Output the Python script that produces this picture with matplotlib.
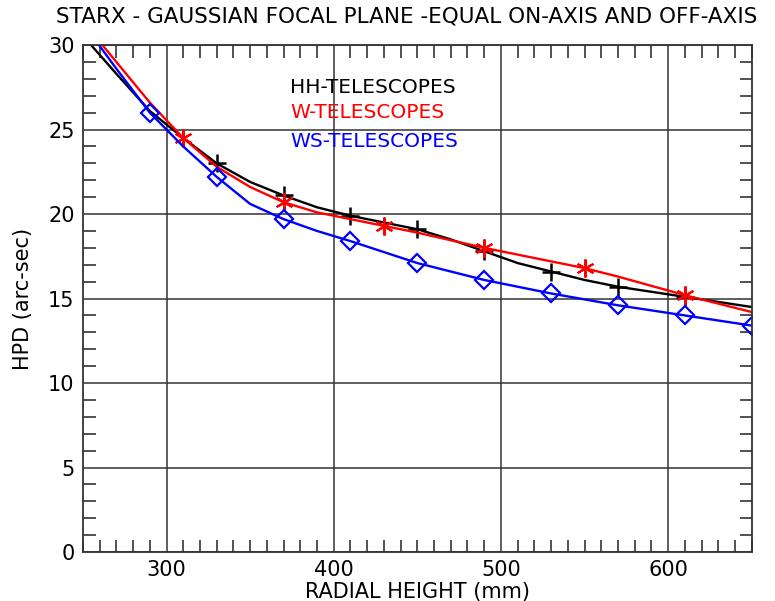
import numpy as np
import matplotlib
matplotlib.use("Agg")
import matplotlib.pyplot as plt
from matplotlib.ticker import MultipleLocator

# Radial height (mm)
radial_height = [250, 270, 290, 310, 330, 350, 370, 390, 410, 430, 450,
                 470, 490, 510, 530, 550, 570, 590, 610, 630, 650]

# HPD (arc-sec)
hh_hpd = [30.55, 28.3, 26.1, 24.5, 23.0, 21.9, 21.1, 20.4, 19.9, 19.5, 19.1,
          18.5, 17.8, 17.1, 16.6, 16.1, 15.7, 15.4, 15.1, 14.8, 14.5]
w_hpd = [31.4, 29.0, 26.6, 24.5, 22.8, 21.6, 20.7, 20.1, 19.7, 19.3, 18.9,
         18.45, 18.0, 17.6, 17.2, 16.8, 16.3, 15.75, 15.2, 14.7, 14.2]
ws_hpd = [31.3, 28.6, 26.0, 24.0, 22.2, 20.6, 19.7, 19.0, 18.4, 17.75, 17.1,
          16.6, 16.1, 15.7, 15.3, 14.95, 14.6, 14.3, 14.0, 13.7, 13.4]

# which samples carry a symbol
hh_marks = [4, 6, 8, 10, 12, 14, 16, 18]
w_marks = [3, 6, 9, 12, 15, 18]
ws_marks = [2, 4, 6, 8, 10, 12, 14, 16, 18, 20]

labels = ["HH-TELESCOPES", "W-TELESCOPES", "WS-TELESCOPES"]
label_y = [27.5, 26.0, 24.3]

fig = plt.figure(figsize=(7.75, 6.01), dpi=100)
ax = fig.add_axes([0.107, 0.0815, 0.863, 0.8435])

ax.plot(radial_height, hh_hpd, color="black", lw=1.7, marker="+",
        markersize=13, markeredgewidth=1.8, markevery=hh_marks)
ax.plot(radial_height, w_hpd, color="red", lw=1.7, marker=(6, 2, 0),
        markersize=13, markeredgewidth=1.5, markevery=w_marks)
ax.plot(radial_height, ws_hpd, color="blue", lw=1.7, marker="D",
        markersize=9, markerfacecolor="none", markeredgewidth=1.6,
        markevery=ws_marks)

ax.set_xlim(250, 650)
ax.set_ylim(0, 30)
ax.xaxis.set_major_locator(MultipleLocator(100))
ax.xaxis.set_minor_locator(MultipleLocator(10))
ax.yaxis.set_major_locator(MultipleLocator(5))
ax.yaxis.set_minor_locator(MultipleLocator(1))
ax.tick_params(which="both", direction="in", top=True, right=True,
               labelsize=15, colors="black")
ax.tick_params(which="major", length=0, pad=6)
ax.tick_params(which="minor", length=9, width=1.2, color="#333333")
ax.grid(True, which="major", color="#333333", lw=1.1)
for s in ax.spines.values():
    s.set_linewidth(1.3)
    s.set_color("#333333")

for lab, y, c in zip(labels, label_y, ["black", "red", "blue"]):
    ax.text(374, y, lab, color=c, fontsize=14.5, va="center", ha="left")

fig.text(0.525, 0.972, "STARX - GAUSSIAN FOCAL PLANE -EQUAL ON-AXIS AND OFF-AXIS",
         fontsize=15.5, ha="center", va="center")
ax.set_xlabel("RADIAL HEIGHT (mm)", fontsize=15, labelpad=1)
ax.set_ylabel("HPD (arc-sec)", fontsize=15, labelpad=11)

plt.savefig("out.png", dpi=100)
plt.close()
